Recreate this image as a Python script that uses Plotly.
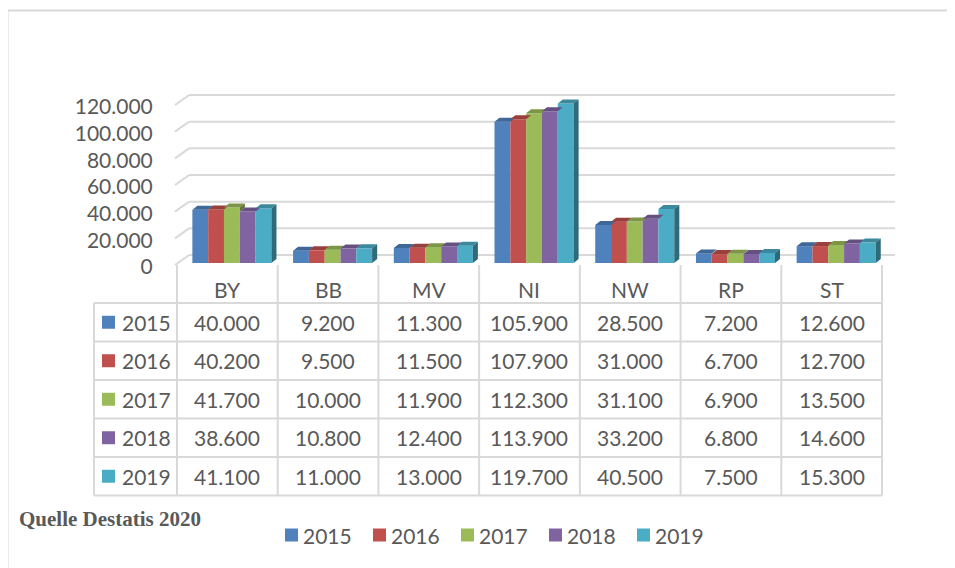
import plotly.graph_objects as go

# ---------------- data ----------------
categories = ["BY", "BB", "MV", "NI", "NW", "RP", "ST"]
years = ["2015", "2016", "2017", "2018", "2019"]
v2015 = [40000, 9200, 11300, 105900, 28500, 7200, 12600]
v2016 = [40200, 9500, 11500, 107900, 31000, 6700, 12700]
v2017 = [41700, 10000, 11900, 112300, 31100, 6900, 13500]
v2018 = [38600, 10800, 12400, 113900, 33200, 6800, 14600]
v2019 = [41100, 11000, 13000, 119700, 40500, 7500, 15300]
series = [v2015, v2016, v2017, v2018, v2019]
tick_values = [0, 20000, 40000, 60000, 80000, 100000, 120000]
tick_labels = ["0", "20.000", "40.000", "60.000", "80.000", "100.000", "120.000"]
source_text = "Quelle Destatis 2020"

colors = ["#4F81BD", "#C0504D", "#9BBB59", "#8064A2", "#4BACC6"]

# ---------------- geometry (screen px; page body has an 8px margin) ----------------
OFF = 8
W, H = 955 - OFF, 568 - OFF
PL, PR, PT, PB = 172, 900, 40, 275
UNIT_X = 100.714          # px per category
Y0_PX = 263               # pixel of value 0
PX_PER_K = 1.3333         # px per 1000
xr = [-0.5 - (177 - PL) / UNIT_X, 6.5 + (PR - 882) / UNIT_X]
yr = [-(PB - Y0_PX) / PX_PER_K * 1000, (Y0_PX - PT) / PX_PER_K * 1000]


def px_x(xd):
    return 177 + (xd + 0.5) * UNIT_X


def pap_x(px):
    return (px - PL) / (PR - PL)


def pap_y(py):
    return (PB - py) / (PB - PT)


def shade(hexc, f):
    h = hexc.lstrip("#")
    r, g, b = int(h[0:2], 16), int(h[2:4], 16), int(h[4:6], 16)
    return "rgb(%d,%d,%d)" % (r * f, g * f, b * f)


TXT = "#595959"
FONT = "Lato"
GRID = "#D9D9D9"

fig = go.Figure()

bw = 0.157
shift = 0.045
dx = 0.05
dy = 3000

# front faces
for j, (yr_name, vals) in enumerate(zip(years, series)):
    xs = [i + shift + (j - 2) * bw for i in range(len(categories))]
    fig.add_trace(go.Bar(
        x=xs, y=vals, width=bw, name=yr_name,
        marker=dict(color=colors[j], line=dict(width=0)),
        hoverinfo="skip", showlegend=False,
    ))

# top and side faces (3D look), computed from values
for j, vals in enumerate(series):
    tx, ty, sx, sy = [], [], [], []
    for i, v in enumerate(vals):
        xc = i + shift + (j - 2) * bw
        xl, xrr = xc - bw / 2, xc + bw / 2
        tx += [xl, xl + dx, xrr + dx, xrr, xl, None]
        ty += [v, v + dy, v + dy, v, v, None]
        if j == len(series) - 1:
            lo = 0
        else:
            lo = series[j + 1][i]
        if v > lo or j == len(series) - 1:
            sx += [xrr, xrr + dx, xrr + dx, xrr, xrr, None]
            sy += [lo, lo + dy, v + dy, v, lo, None]
    fig.add_trace(go.Scatter(x=tx, y=ty, fill="toself", mode="lines",
                             line=dict(width=0), fillcolor=shade(colors[j], 0.8),
                             showlegend=False, hoverinfo="skip"))
    if sx:
        fig.add_trace(go.Scatter(x=sx, y=sy, fill="toself", mode="lines",
                                 line=dict(width=0), fillcolor=shade(colors[j], 0.62),
                                 showlegend=False, hoverinfo="skip"))

shapes = []
# back wall gridlines + left diagonal
for v in tick_values:
    shapes.append(dict(type="line", xref="x", yref="y", layer="below",
                       x0=-0.38, x1=6.63, y0=v + 6000, y1=v + 6000,
                       line=dict(color=GRID, width=2)))
    shapes.append(dict(type="line", xref="x", yref="y", layer="below",
                       x0=-0.52, x1=-0.38, y0=v - 1500, y1=v + 6000,
                       line=dict(color=GRID, width=2)))

# data table
row_lines = [303, 341.5, 380, 418.5, 457, 495.5]
for ry in row_lines:
    shapes.append(dict(type="line", xref="paper", yref="paper",
                       x0=pap_x(94), x1=pap_x(px_x(6.5)), y0=pap_y(ry), y1=pap_y(ry),
                       line=dict(color=GRID, width=2)))
shapes.append(dict(type="line", xref="paper", yref="paper",
                   x0=pap_x(94), x1=pap_x(94), y0=pap_y(303), y1=pap_y(495.5),
                   line=dict(color=GRID, width=2)))
for k in range(len(categories) + 1):
    xp = pap_x(px_x(-0.5 + k))
    shapes.append(dict(type="line", xref="paper", yref="paper",
                       x0=xp, x1=xp, y0=pap_y(265), y1=pap_y(495.5),
                       line=dict(color=GRID, width=2)))

# outer frame
shapes.append(dict(type="rect", xref="paper", yref="paper",
                   x0=pap_x(7.5), x1=pap_x(975), y0=pap_y(10.5), y1=pap_y(590),
                   line=dict(color=GRID, width=2), fillcolor="rgba(0,0,0,0)"))

annotations = []
for i, c in enumerate(categories):
    annotations.append(dict(x=pap_x(px_x(i)), y=pap_y(289), xref="paper", yref="paper",
                            text=c, showarrow=False, xanchor="center", yanchor="middle",
                            font=dict(family=FONT, size=21, color=TXT)))
for j, (yr_name, vals) in enumerate(zip(years, series)):
    cy = (row_lines[j] + row_lines[j + 1]) / 2
    shapes.append(dict(type="rect", xref="paper", yref="paper",
                       x0=pap_x(102), x1=pap_x(115), y0=pap_y(cy - 6.5), y1=pap_y(cy + 6.5),
                       fillcolor=colors[j], line=dict(width=0)))
    annotations.append(dict(x=pap_x(120), y=pap_y(cy), xref="paper", yref="paper",
                            text=yr_name, showarrow=False, xanchor="left", yanchor="middle",
                            font=dict(family=FONT, size=21, color=TXT)))
    for i, v in enumerate(vals):
        annotations.append(dict(x=pap_x(px_x(i)), y=pap_y(cy), xref="paper", yref="paper",
                                text=f"{v:,}".replace(",", "."), showarrow=False,
                                xanchor="center", yanchor="middle",
                                font=dict(family=FONT, size=21, color=TXT)))

# bottom legend (series keys)
LEG_Y = 535
for j, yr_name in enumerate(years):
    mx = 285 + 88 * j
    shapes.append(dict(type="rect", xref="paper", yref="paper",
                       x0=pap_x(mx), x1=pap_x(mx + 13), y0=pap_y(LEG_Y - 6.5),
                       y1=pap_y(LEG_Y + 6.5), fillcolor=colors[j], line=dict(width=0)))
    annotations.append(dict(x=pap_x(mx + 16), y=pap_y(LEG_Y), xref="paper", yref="paper",
                            text=yr_name, showarrow=False, xanchor="left", yanchor="middle",
                            font=dict(family=FONT, size=21, color=TXT)))

annotations.append(dict(x=pap_x(17), y=pap_y(519), xref="paper", yref="paper",
                        text="<b>" + source_text + "</b>", showarrow=False,
                        xanchor="left", yanchor="middle",
                        font=dict(family="Liberation Serif", size=21, color=TXT)))

fig.update_layout(
    width=W, height=H,
    margin=dict(l=PL - OFF, r=955 - PR, t=PT - OFF, b=568 - PB, autoexpand=False),
    paper_bgcolor="white", plot_bgcolor="white",
    barmode="overlay",
    showlegend=False,
    xaxis=dict(range=xr, showgrid=False, zeroline=False, showticklabels=False,
               showline=False, ticks="", fixedrange=True),
    yaxis=dict(range=yr, showgrid=False, zeroline=False, showline=False,
               tickmode="array", tickvals=tick_values, ticktext=tick_labels,
               ticks="outside", ticklen=14, tickcolor="rgba(0,0,0,0)",
               ticklabelshift=4,
               tickfont=dict(family=FONT, size=21, color=TXT), fixedrange=True),
    shapes=shapes,
    annotations=annotations,
)

fig.write_html("out.html")
